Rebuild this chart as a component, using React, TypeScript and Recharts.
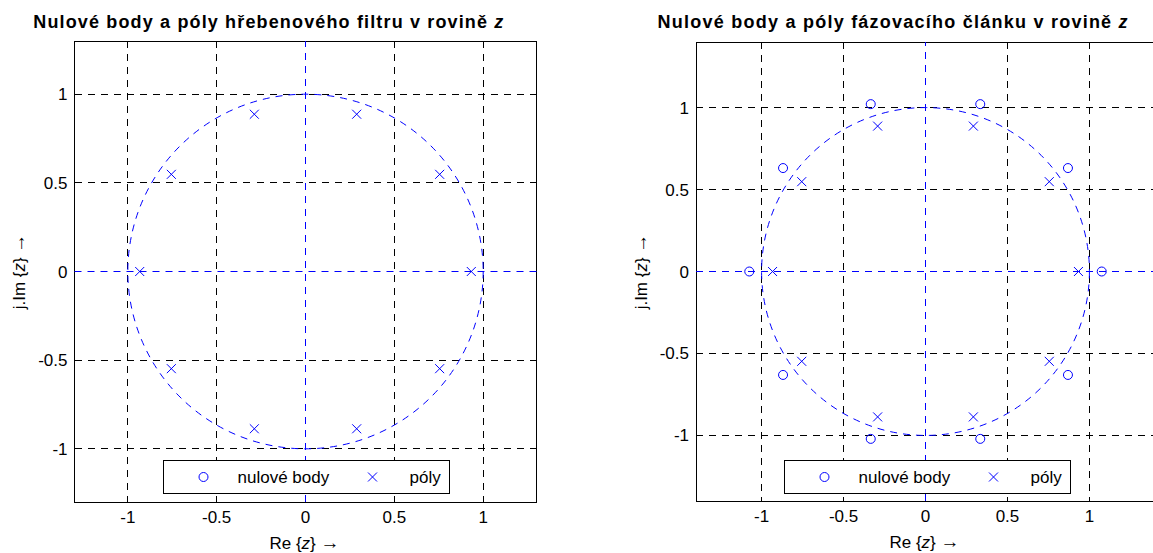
import React from "react";
import {
  ScatterChart,
  Scatter,
  XAxis,
  YAxis,
  CartesianGrid,
  ReferenceLine,
  ReferenceArea,
  Legend,
} from "recharts";

const ticks = [-1, -0.5, 0, 0.5, 1];
const gridTicks = [-1, -0.5, 0.5, 1];

// hřebenový filtr (zeros are not shown in the plane)
const combPoleRe = [0.933, 0.755, 0.288, -0.288, -0.755, -0.933, -0.755, -0.288, 0.288, 0.755];
const combPoleIm = [0, 0.548, 0.887, 0.887, 0.548, 0, -0.548, -0.887, -0.887, -0.548];
const combZeroRe: number[] = [];
const combZeroIm: number[] = [];

// fázovací článek
const apPoleRe = [0.933, 0.755, 0.292, -0.292, -0.755, -0.933, -0.755, -0.292, 0.292, 0.755];
const apPoleIm = [0, 0.548, 0.887, 0.887, 0.548, 0, -0.548, -0.887, -0.887, -0.548];
const apZeroRe = [1.075, 0.869, 0.334, -0.334, -0.869, -1.075, -0.869, -0.334, 0.334, 0.869];
const apZeroIm = [0, 0.631, 1.021, 1.021, 0.631, 0, -0.631, -1.021, -1.021, -0.631];

const BLUE = "#0000ff";
const FONT = "'Liberation Sans', Arial, Helvetica, sans-serif";

const toPoints = (re: number[], im: number[]) => re.map((r, i) => ({ re: r, im: im[i] }));

const Cross = (props: any) => {
  const { cx, cy } = props;
  const h = 4.5;
  return (
    <path
      d={`M${cx - h},${cy - h}L${cx + h},${cy + h}M${cx - h},${cy + h}L${cx + h},${cy - h}`}
      stroke={BLUE}
      strokeWidth={1}
      fill="none"
    />
  );
};

const Ring = (props: any) => (
  <circle cx={props.cx} cy={props.cy} r={4.5} stroke={BLUE} strokeWidth={1} fill="none" />
);

// unit circle inscribed in the [-1,1] x [-1,1] area
const UnitCircle = (props: any) => {
  const { x, y, width, height } = props;
  return (
    <ellipse
      cx={x + width / 2}
      cy={y + height / 2}
      rx={Math.abs(width) / 2}
      ry={Math.abs(height) / 2}
      fill="none"
      stroke={BLUE}
      strokeDasharray="7 6"
    />
  );
};

const Frame = (props: any) => {
  const { x, y, width, height } = props;
  return (
    <rect
      x={x}
      y={y}
      width={width}
      height={height}
      fill="none"
      stroke="#000"
      strokeWidth={1}
      shapeRendering="crispEdges"
    />
  );
};

const LegendBox = () => (
  <div
    style={{
      position: "relative",
      width: 287,
      height: 34,
      boxSizing: "border-box",
      border: "1px solid #000",
      background: "#fff",
      fontFamily: FONT,
      fontSize: 17,
      color: "#000",
    }}
  >
    <svg width={287} height={34} style={{ position: "absolute", left: -1, top: -1 }}>
      <circle cx={40.5} cy={17} r={4.5} stroke={BLUE} fill="none" />
      <path d="M205,12.5L214,21.5M205,21.5L214,12.5" stroke={BLUE} fill="none" />
      <text x={74.5} y={23} fontFamily={FONT} fontSize={17} fill="#000">
        nulové body
      </text>
      <text x={246.5} y={23} fontFamily={FONT} fontSize={17} fill="#000">
        póly
      </text>
    </svg>
  </div>
);

const Arrow = () => (
  <tspan fontFamily="'Liberation Serif', 'DejaVu Serif', serif" fontSize={19}>
    {"\u2192"}
  </tspan>
);

const xLabel = (props: any) => {
  const { x, y, width } = props.viewBox;
  return (
    <text x={x + width / 2 - 1} y={y + 47} textAnchor="middle" fontFamily={FONT} fontSize={17} fill="#000">
      {"Re {"}
      <tspan fontStyle="italic">z</tspan>
      {"} "}
      <Arrow />
    </text>
  );
};

const yLabel = (props: any) => {
  const { x, y, height } = props.viewBox;
  const lx = x + 40 - 49.5;
  const ly = y + height / 2;
  return (
    <text
      x={lx}
      y={ly}
      transform={`rotate(-90, ${lx}, ${ly})`}
      textAnchor="middle"
      fontFamily={FONT}
      fontSize={17}
      fill="#000"
    >
      {"j.Im {"}
      <tspan fontStyle="italic">z</tspan>
      {"} "}
      <Arrow />
    </text>
  );
};

const tickStyle = { fill: "#000", fontSize: 17, fontFamily: FONT };

type PlaneProps = {
  lim: number;
  width: number;
  margin: { top: number; right: number; bottom: number; left: number };
  legendLeft: number;
  zeros: { re: number; im: number }[];
  poles: { re: number; im: number }[];
};

const ZPlane = ({ lim, width, margin, legendLeft, zeros, poles }: PlaneProps) => (
  <ScatterChart width={width} height={553} margin={margin}>
    <CartesianGrid
      stroke="#000"
      strokeDasharray="7 6"
      horizontalValues={gridTicks}
      verticalValues={gridTicks}
      shapeRendering="crispEdges"
    />
    <XAxis
      type="number"
      dataKey="re"
      domain={[-lim, lim]}
      ticks={ticks}
      interval={0}
      allowDataOverflow
      axisLine={false}
      tickLine={false}
      tickSize={0}
      tickMargin={9}
      height={30}
      tick={tickStyle}
      label={{ content: xLabel }}
    />
    <YAxis
      type="number"
      dataKey="im"
      domain={[-lim, lim]}
      ticks={ticks}
      interval={0}
      allowDataOverflow
      axisLine={false}
      tickLine={false}
      tickSize={0}
      tickMargin={7}
      width={40}
      tick={tickStyle}
      label={{ content: yLabel }}
    />
    <ReferenceLine x={0} stroke={BLUE} strokeDasharray="7 6" />
    <ReferenceLine y={0} stroke={BLUE} strokeDasharray="7 6" />
    <ReferenceArea x1={-1} x2={1} y1={-1} y2={1} shape={UnitCircle} />
    <Scatter name="nulové body" data={zeros} shape={Ring} isAnimationActive={false} />
    <Scatter name="póly" data={poles} shape={Cross} isAnimationActive={false} />
    <ReferenceArea x1={-lim} x2={lim} y1={-lim} y2={lim} shape={Frame} ifOverflow="visible" />
    <Legend
      verticalAlign="middle"
      align="center"
      layout="horizontal"
      content={() => <LegendBox />}
      wrapperStyle={{ left: legendLeft, top: 460, width: 287, height: 34 }}
    />
  </ScatterChart>
);

const Title = ({ x, text }: { x: number; text: string }) => (
  <text x={x} y={27.7} fontFamily={FONT} fontSize={18} fontWeight="bold" fill="#000" textLength={470} lengthAdjust="spacing">
    {text}
    <tspan fontStyle="italic">z</tspan>
  </text>
);

export default function App() {
  return (
    <div
      style={{
        position: "absolute",
        left: 0,
        top: 0,
        width: 1153,
        height: 553,
        overflow: "hidden",
        background: "#fff",
      }}
    >
      <div style={{ position: "absolute", left: 0, top: 0 }}>
        <ZPlane
          lim={1.3}
          width={576}
          margin={{ top: 41, right: 39.5, bottom: 21, left: 34.5 }}
          legendLeft={162.5}
          zeros={toPoints(combZeroRe, combZeroIm)}
          poles={toPoints(combPoleRe, combPoleIm)}
        />
      </div>
      <div style={{ position: "absolute", left: 576, top: 0 }}>
        <ZPlane
          lim={1.4}
          width={600}
          margin={{ top: 42, right: 21, bottom: 22, left: 80 }}
          legendLeft={207.7}
          zeros={toPoints(apZeroRe, apZeroIm)}
          poles={toPoints(apPoleRe, apPoleIm)}
        />
      </div>
      <svg width={1153} height={40} style={{ position: "absolute", left: 0, top: 0 }}>
        <Title x={33.3} text="Nulové body a póly hřebenového filtru v rovině " />
        <Title x={657.6} text="Nulové body a póly fázovacího článku v rovině " />
      </svg>
    </div>
  );
}
